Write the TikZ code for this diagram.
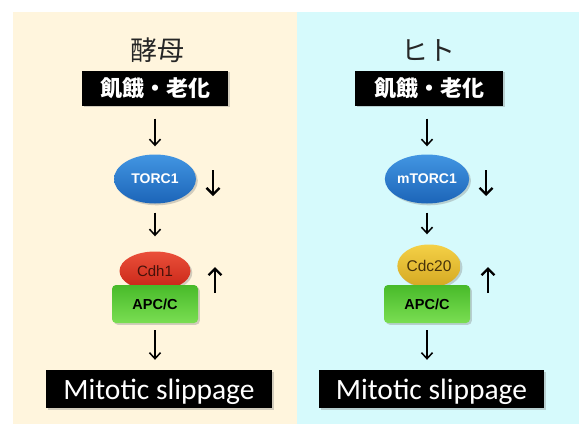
\documentclass[tikz,border=0pt]{standalone}
\usepackage{fontspec}
\setmainfont{Liberation Sans}
\newfontfamily\cjk{Noto Sans CJK JP}
\newfontfamily\calib{Carlito}
\usetikzlibrary{shapes.geometric,arrows.meta,shadows}
\definecolor{beigebg}{RGB}{255,245,221}
\definecolor{cyanbg}{RGB}{214,250,252}
\definecolor{blueT}{RGB}{66,150,226}
\definecolor{blueB}{RGB}{28,100,184}
\definecolor{redT}{RGB}{234,80,58}
\definecolor{redB}{RGB}{200,36,22}
\definecolor{yelT}{RGB}{244,208,70}
\definecolor{yelB}{RGB}{212,168,34}
\definecolor{grnT}{RGB}{72,186,42}
\definecolor{grnB}{RGB}{122,222,82}
\definecolor{cdhtext}{RGB}{70,18,10}
\definecolor{cdctext}{RGB}{70,50,10}
\tikzset{
  shd/.style={drop shadow={opacity=0.35,shadow xshift=1.8pt,shadow yshift=-1.8pt}},
  titletext/.style={font=\cjk\fontsize{27}{30}\selectfont, text=black!85},
  blackbox/.style={rectangle, fill=black, text=white, inner sep=0pt, shd},
  hungerbox/.style={blackbox, minimum width=146pt, minimum height=35pt, font=\cjk\bfseries\fontsize{22}{26}\selectfont},
  mitbox/.style={blackbox, minimum width=226pt, minimum height=38pt, font=\calib\fontsize{29.5}{32}\selectfont, text depth=0pt},
  torcnode/.style={ellipse, inner sep=0pt, minimum width=82pt, minimum height=49pt, top color=blueT, bottom color=blueB, text=white, font=\bfseries\fontsize{14}{16}\selectfont, shd},
  cdhnode/.style={ellipse, inner sep=0pt, minimum width=71pt, minimum height=39pt, top color=redT, bottom color=redB, text=cdhtext, font=\fontsize{15}{17}\selectfont, shd},
  cdcnode/.style={ellipse, inner sep=0pt, minimum width=61pt, minimum height=43pt, top color=yelT, bottom color=yelB, text=cdctext, font=\fontsize{15.5}{17}\selectfont, shd},
  apcnode/.style={rectangle, rounded corners=4pt, inner sep=0pt, minimum width=86pt, minimum height=38pt, top color=grnT, bottom color=grnB, text=black, font=\bfseries\fontsize{14.5}{16}\selectfont, shd},
  mainarr/.style={line width=1.5pt, -{Straight Barb[length=6pt,width=11pt,line width=1.5pt]}},
  sidearr/.style={line width=2.3pt, -{Straight Barb[length=6.5pt,width=13pt,line width=2.3pt]}},
}
\begin{document}
\begin{tikzpicture}[x=1pt,y=-1pt]
\useasboundingbox (0,0) rectangle (579,426);
\fill[white] (0,0) rectangle (579,426);
\fill[beigebg] (13,12) rectangle (297,424);
\fill[cyanbg] (297,12) rectangle (579,424);

% left column
\node[titletext] (t1) at (157,50) {酵母};
\node[hungerbox] (h1) at (155,88) {飢餓・老化};
\node[torcnode] (tor1) at (155,179) {TORC1};
\node[cdhnode] (c1) at (155,271) {Cdh1};
\node[apcnode] (a1) at (155,304) {APC/C};
\node[mitbox] (m1) at (159,389) {Mitotic slippage};

\draw[mainarr, shorten <=13pt, shorten >=8pt] (h1.south) -- (h1.south |- tor1.north);
\draw[mainarr, shorten <=9pt, shorten >=15pt] (tor1.south) -- (c1.north);
\draw[mainarr, shorten <=7pt, shorten >=10pt] (a1.south) -- (a1.south |- m1.north);

\coordinate (s1a) at (213,170);
\coordinate (s1b) at (213,196);
\draw[sidearr] (s1a) -- (s1b);
\coordinate (u1a) at (215,293);
\coordinate (u1b) at (215,267);
\draw[sidearr] (u1a) -- (u1b);

% right column
\node[titletext] (t2) at (428,50) {ヒト};
\node[hungerbox, minimum width=148pt] (h2) at (429,88) {飢餓・老化};
\node[torcnode] (tor2) at (427,179) {mTORC1};
\node[cdcnode] (c2) at (429,266) {Cdc20};
\node[apcnode] (a2) at (427,304) {APC/C};
\node[mitbox, minimum width=225pt] (m2) at (431.5,389) {Mitotic slippage};

\draw[mainarr, shorten <=13pt, shorten >=8pt] (h2.south -| tor2.south) -- (tor2.north);
\draw[mainarr, shorten <=9pt, shorten >=10pt] (tor2.south) -- (tor2.south |- c2.north);
\draw[mainarr, shorten <=7pt, shorten >=10pt] (a2.south) -- (a2.south |- m2.north);

\coordinate (s2a) at (486,170);
\coordinate (s2b) at (486,196);
\draw[sidearr] (s2a) -- (s2b);
\coordinate (u2a) at (488,293);
\coordinate (u2b) at (488,267);
\draw[sidearr] (u2a) -- (u2b);
\end{tikzpicture}
\end{document}
